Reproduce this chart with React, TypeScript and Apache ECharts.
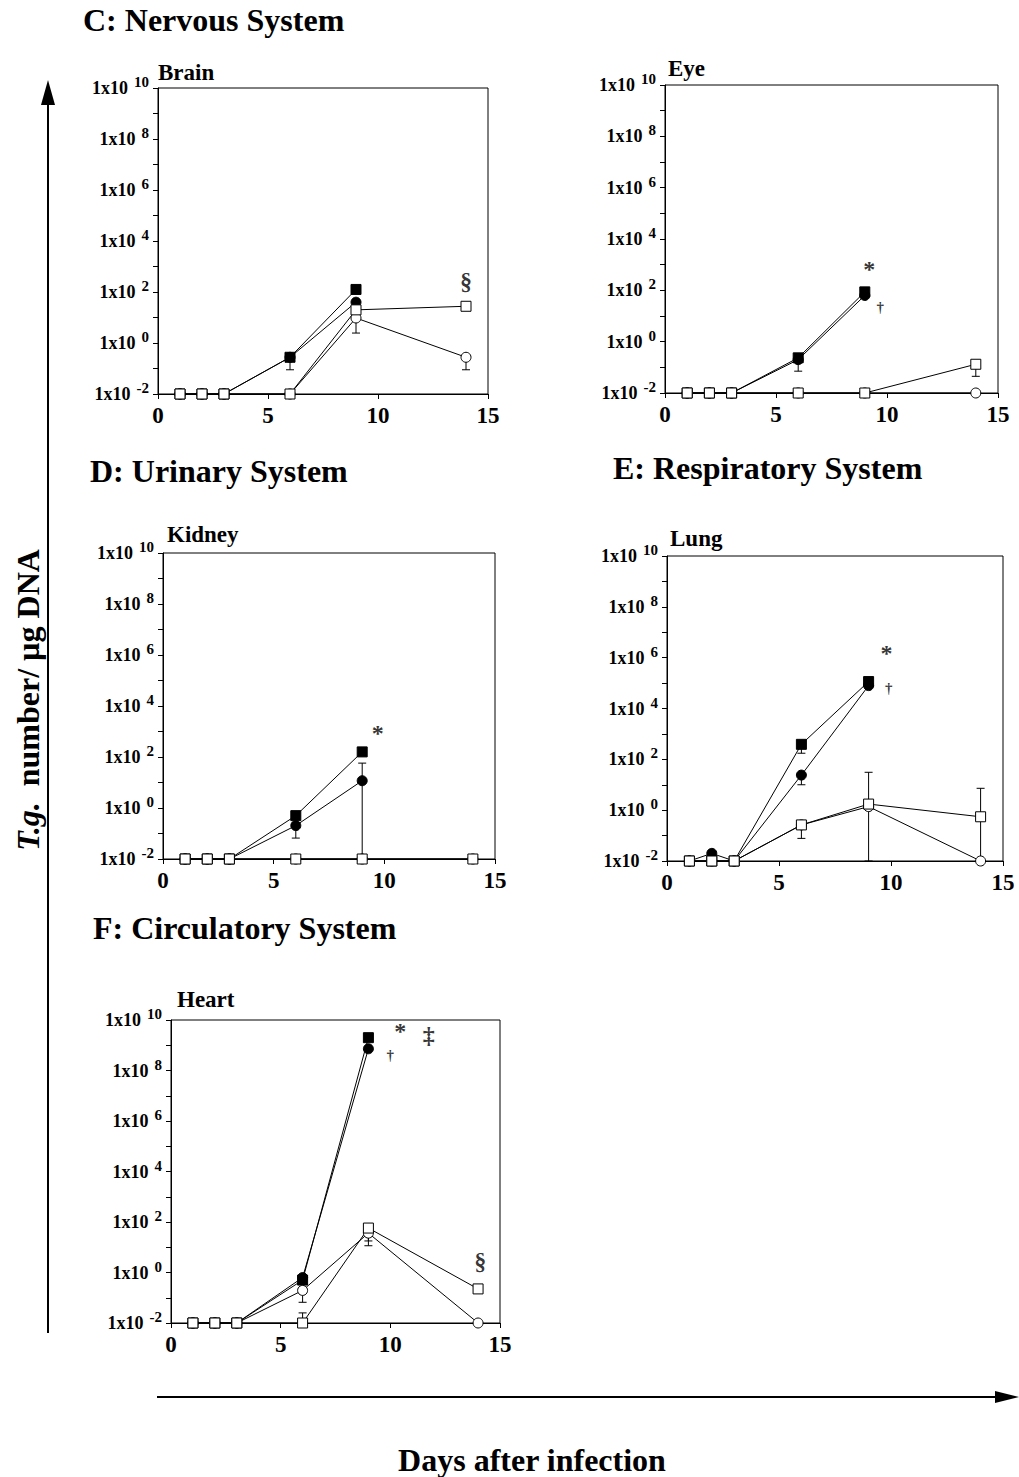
import React, { useEffect, useRef } from "react";
import * as echarts from "echarts";

// ---- data (log10 of T.g. number / µg DNA) ----
const days = [1, 2, 3, 6, 9, 14];
const yTicks = [-2, 0, 2, 4, 6, 8, 10];

// Brain
const brainFilledSq = [-2, -2, -2, -0.56, 2.1, null];
const brainFilledCirc = [-2, -2, -2, -0.56, 1.6, null];
const brainOpenCirc = [-2, -2, -2, -2, 0.98, -0.56];
const brainOpenSq = [-2, -2, -2, -2, 1.3, 1.44];
const brainErr = [[6, -0.56, -1.05], [9, 0.98, 0.39], [14, -0.56, -1.05]];
const brainNotes = [[14, 2.45, "§"]];

// Eye
const eyeFilledSq = [-2, -2, -2, -0.63, 1.94, null];
const eyeFilledCirc = [-2, -2, -2, -0.7, 1.8, null];
const eyeOpenCirc = [-2, -2, -2, -2, -2, -2];
const eyeOpenSq = [-2, -2, -2, -2, -2, -0.88];
const eyeErr = [[6, -0.63, -1.15], [14, -0.88, -1.35]];
const eyeNotes = [[9.2, 2.85, "*"], [9.7, 1.35, "†"]];

// Kidney
const kidneyFilledSq = [-2, -2, -2, -0.3, 2.2, null];
const kidneyFilledCirc = [-2, -2, -2, -0.69, 1.07, null];
const kidneyOpenCirc = [-2, -2, -2, -2, -2, -2];
const kidneyOpenSq = [-2, -2, -2, -2, -2, -2];
const kidneyErr = [[6, -0.69, -1.18], [9, 1.07, 1.76], [9, 1.07, -2]];
const kidneyNotes = [[9.7, 2.94, "*"]];

// Lung
const lungFilledSq = [-2, -2, -2, 2.59, 5.06, null];
const lungFilledCirc = [-2, -1.7, -2, 1.38, 4.9, null];
const lungOpenCirc = [-2, -2, -2, -0.58, 0.14, -2];
const lungOpenSq = [-2, -2, -2, -0.58, 0.24, -0.26];
const lungErr = [
  [6, 2.59, 2.24], [6, 1.38, 1.0], [6, -0.58, -1.11],
  [9, 0.24, 1.49], [9, 0.14, -2], [14, -0.26, 0.86], [14, -0.26, -2],
];
const lungNotes = [[9.8, 6.2, "*"], [9.9, 4.8, "†"]];

// Heart
const heartFilledSq = [-2, -2, -2, -0.3, 9.3, null];
const heartFilledCirc = [-2, -2, -2, -0.2, 8.86, null];
const heartOpenCirc = [-2, -2, -2, -0.71, 1.56, -2];
const heartOpenSq = [-2, -2, -2, -2, 1.76, -0.65];
const heartErr = [[6, -0.71, -1.18], [6, -2, -1.6], [9, 1.56, 1.06], [9, 1.76, 1.25]];
const heartNotes = [[10.45, 9.55, "*"], [11.75, 9.4, "‡"], [10.0, 8.6, "†"], [14.1, 0.45, "§"]];

const panelNames = ["Brain", "Eye", "Kidney", "Lung", "Heart"];

// ---- layout ----
const FONT = "'Liberation Serif', 'Times New Roman', serif";
const grids = [
  { left: 158, top: 88, width: 330, height: 306 },
  { left: 665, top: 85, width: 333, height: 308 },
  { left: 163, top: 553, width: 332, height: 306 },
  { left: 667, top: 556, width: 336, height: 305 },
  { left: 171, top: 1020, width: 329, height: 303 },
];
const panelTitlePos = [
  [158, 72], [668, 68], [167, 534], [670, 538], [177, 999],
];
const sections = [
  { text: "C: Nervous System", x: 83, y: 20 },
  { text: "D: Urinary System", x: 90, y: 471 },
  { text: "E: Respiratory System", x: 613, y: 468 },
  { text: "F: Circulatory System", x: 93, y: 928 },
];

const panelData = [
  { fs: brainFilledSq, fc: brainFilledCirc, oc: brainOpenCirc, os: brainOpenSq, err: brainErr, notes: brainNotes },
  { fs: eyeFilledSq, fc: eyeFilledCirc, oc: eyeOpenCirc, os: eyeOpenSq, err: eyeErr, notes: eyeNotes },
  { fs: kidneyFilledSq, fc: kidneyFilledCirc, oc: kidneyOpenCirc, os: kidneyOpenSq, err: kidneyErr, notes: kidneyNotes },
  { fs: lungFilledSq, fc: lungFilledCirc, oc: lungOpenCirc, os: lungOpenSq, err: lungErr, notes: lungNotes },
  { fs: heartFilledSq, fc: heartFilledCirc, oc: heartOpenCirc, os: heartOpenSq, err: heartErr, notes: heartNotes },
];

const toPts = (vals: (number | null)[]) =>
  days.map((d, k) => [d, vals[k]]).filter((p) => p[1] !== null);

function buildOption() {
  const xAxis: any[] = [];
  const yAxis: any[] = [];
  const series: any[] = [];
  const grid: any[] = [];

  grids.forEach((g, i) => {
    grid.push({ ...g, show: true, borderColor: "#000", borderWidth: 1, backgroundColor: "transparent" });
    xAxis.push({
      type: "value", gridIndex: i, min: 0, max: 15, interval: 5,
      axisLine: { show: true, onZero: false, lineStyle: { color: "#000", width: 1 } },
      axisTick: { show: true, length: 5, lineStyle: { color: "#000" } },
      axisLabel: { color: "#000", fontFamily: FONT, fontWeight: "bold", fontSize: 23, margin: 10 },
      splitLine: { show: false },
    });
    yAxis.push({
      type: "value", gridIndex: i, min: -2, max: 10, interval: 1,
      axisLine: { show: true, onZero: false, lineStyle: { color: "#000", width: 1 } },
      axisTick: { show: true, length: 5, lineStyle: { color: "#000" } },
      axisLabel: {
        color: "#000", fontFamily: FONT, fontWeight: "bold", margin: 9,
        formatter: (v: number) => (yTicks.indexOf(v) >= 0 ? `{a|1x10} {b|${v}}` : ""),
        rich: {
          a: { fontFamily: FONT, fontWeight: "bold", fontSize: 18, color: "#000" },
          b: { fontFamily: FONT, fontWeight: "bold", fontSize: 15, color: "#000", padding: [0, 0, 12, 3] },
        },
      },
      splitLine: { show: false },
    });

    const d = panelData[i];
    series.push({
      type: "custom", xAxisIndex: i, yAxisIndex: i, data: d.err, silent: true,
      renderItem: (_p: any, api: any) => {
        const x = api.value(0), c = api.value(1), e = api.value(2);
        const p0 = api.coord([x, c]);
        const p1 = api.coord([x, e]);
        return {
          type: "group",
          children: [
            { type: "line", shape: { x1: p0[0], y1: p0[1], x2: p1[0], y2: p1[1] }, style: { stroke: "#000", lineWidth: 1 } },
            { type: "line", shape: { x1: p1[0] - 4, y1: p1[1], x2: p1[0] + 4, y2: p1[1] }, style: { stroke: "#000", lineWidth: 1 } },
          ],
        };
      },
    });
    const lineCommon = {
      type: "line", xAxisIndex: i, yAxisIndex: i, silent: true,
      lineStyle: { color: "#000", width: 1 },
    };
    series.push({ ...lineCommon, name: "fs", data: toPts(d.fs), symbol: "rect", symbolSize: 10, itemStyle: { color: "#000", borderColor: "#000", borderWidth: 1 } });
    series.push({ ...lineCommon, name: "fc", data: toPts(d.fc), symbol: "circle", symbolSize: 10, itemStyle: { color: "#000", borderColor: "#000", borderWidth: 1 } });
    series.push({ ...lineCommon, name: "oc", data: toPts(d.oc), symbol: "circle", symbolSize: 10, itemStyle: { color: "#fff", borderColor: "#000", borderWidth: 1 } });
    series.push({ ...lineCommon, name: "os", data: toPts(d.os), symbol: "rect", symbolSize: 10, itemStyle: { color: "#fff", borderColor: "#000", borderWidth: 1 } });
    series.push({
      type: "scatter", xAxisIndex: i, yAxisIndex: i, silent: true, symbolSize: 0,
      itemStyle: { color: "#000" },
      data: d.notes.map((n) => ({
        value: [n[0], n[1]],
        label: {
          show: true, position: [0, 0], align: "center", verticalAlign: "middle",
          formatter: String(n[2]), color: "#000", fontFamily: FONT,
          fontWeight: "bold", textBorderWidth: 0,
          fontSize: n[2] === "†" ? 15 : 24,
        },
      })),
    });
  });

  const graphic: any[] = [];
  sections.forEach((s) => {
    graphic.push({
      type: "text", x: s.x, y: s.y,
      style: { text: s.text, fill: "#000", font: `bold 32px ${FONT}`, textAlign: "left", textVerticalAlign: "middle", align: "left", verticalAlign: "middle" },
    });
  });
  panelNames.forEach((n, i) => {
    graphic.push({
      type: "text", x: panelTitlePos[i][0], y: panelTitlePos[i][1],
      style: { text: n, fill: "#000", font: `bold 23px ${FONT}`, textAlign: "left", textVerticalAlign: "middle", align: "left", verticalAlign: "middle" },
    });
  });
  // vertical arrow
  graphic.push({ type: "line", shape: { x1: 48, y1: 100, x2: 48, y2: 1333 }, style: { stroke: "#000", lineWidth: 2 } });
  graphic.push({ type: "polygon", shape: { points: [[48, 80], [41, 105], [55, 105]] }, style: { fill: "#000" } });
  // horizontal arrow
  graphic.push({ type: "line", shape: { x1: 157, y1: 1397, x2: 1000, y2: 1397 }, style: { stroke: "#000", lineWidth: 2 } });
  graphic.push({ type: "polygon", shape: { points: [[1019, 1397], [995, 1391], [995, 1403]] }, style: { fill: "#000" } });
  // axis titles
  graphic.push({
    type: "text", x: 28, y: 700, rotation: Math.PI / 2,
    style: {
      text: "{i|T.g.}  {n|number/ µg DNA}",
      rich: {
        i: { font: `italic bold 32px ${FONT}`, fill: "#000" },
        n: { font: `bold 32px ${FONT}`, fill: "#000" },
      },
      fill: "#000", font: `bold 32px ${FONT}`,
      textAlign: "center", textVerticalAlign: "middle", align: "center", verticalAlign: "middle",
    },
  });
  graphic.push({
    type: "text", x: 532, y: 1460,
    style: { text: "Days after infection", fill: "#000", font: `bold 32px ${FONT}`, textAlign: "center", textVerticalAlign: "middle", align: "center", verticalAlign: "middle" },
  });

  return { animation: false, backgroundColor: "#fff", grid, xAxis, yAxis, series, graphic };
}

export default function App() {
  const ref = useRef<HTMLDivElement>(null);
  useEffect(() => {
    if (!ref.current) return;
    const chart = echarts.init(ref.current, undefined, { renderer: "svg" });
    chart.setOption(buildOption());
    return () => chart.dispose();
  }, []);
  return (
    <div
      ref={ref}
      style={{ position: "absolute", left: 0, top: 0, width: 1019, height: 1477, background: "#fff" }}
    />
  );
}
